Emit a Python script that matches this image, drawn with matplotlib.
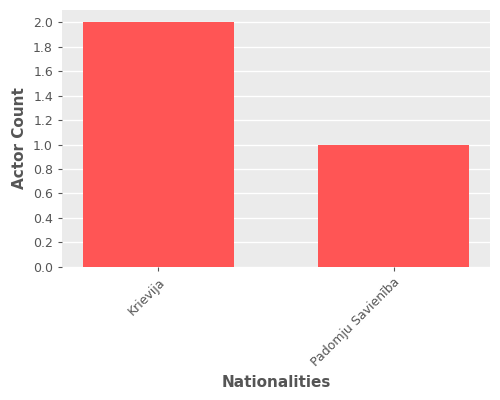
import matplotlib
matplotlib.use("Agg")
import matplotlib.pyplot as plt

categories = ["Krievija", "Padomju Savienība"]
values = [2, 1]

fig = plt.figure(figsize=(5, 4), dpi=100)
ax = fig.add_axes([0.124, 0.333, 0.856, 0.642])
ax.set_facecolor("#EBEBEB")
ax.bar(range(len(categories)), values, width=0.64, color="#FF5555", zorder=3)
ax.set_xlim(-0.41, 1.41)
ax.set_ylim(0, 2.1)
ax.set_yticks([i * 0.2 for i in range(11)])
ax.set_yticklabels([f"{i*0.2:.1f}" for i in range(11)], fontsize=9, color="#555555")
ax.set_xticks(range(len(categories)))
ax.set_xticklabels(categories, rotation=45, ha="right", rotation_mode="anchor", fontsize=9, color="#555555")
ax.grid(axis="y", color="white", linewidth=1, zorder=0)
ax.grid(axis="x", visible=False)
for s in ax.spines.values():
    s.set_visible(False)
ax.tick_params(axis="both", color="#555555", length=3)
ax.set_ylabel("Actor Count", fontsize=11, color="#555555", fontweight="bold")
ax.set_xlabel("Nationalities", fontsize=11, color="#555555", fontweight="bold")
fig.savefig("out.png", dpi=100)
